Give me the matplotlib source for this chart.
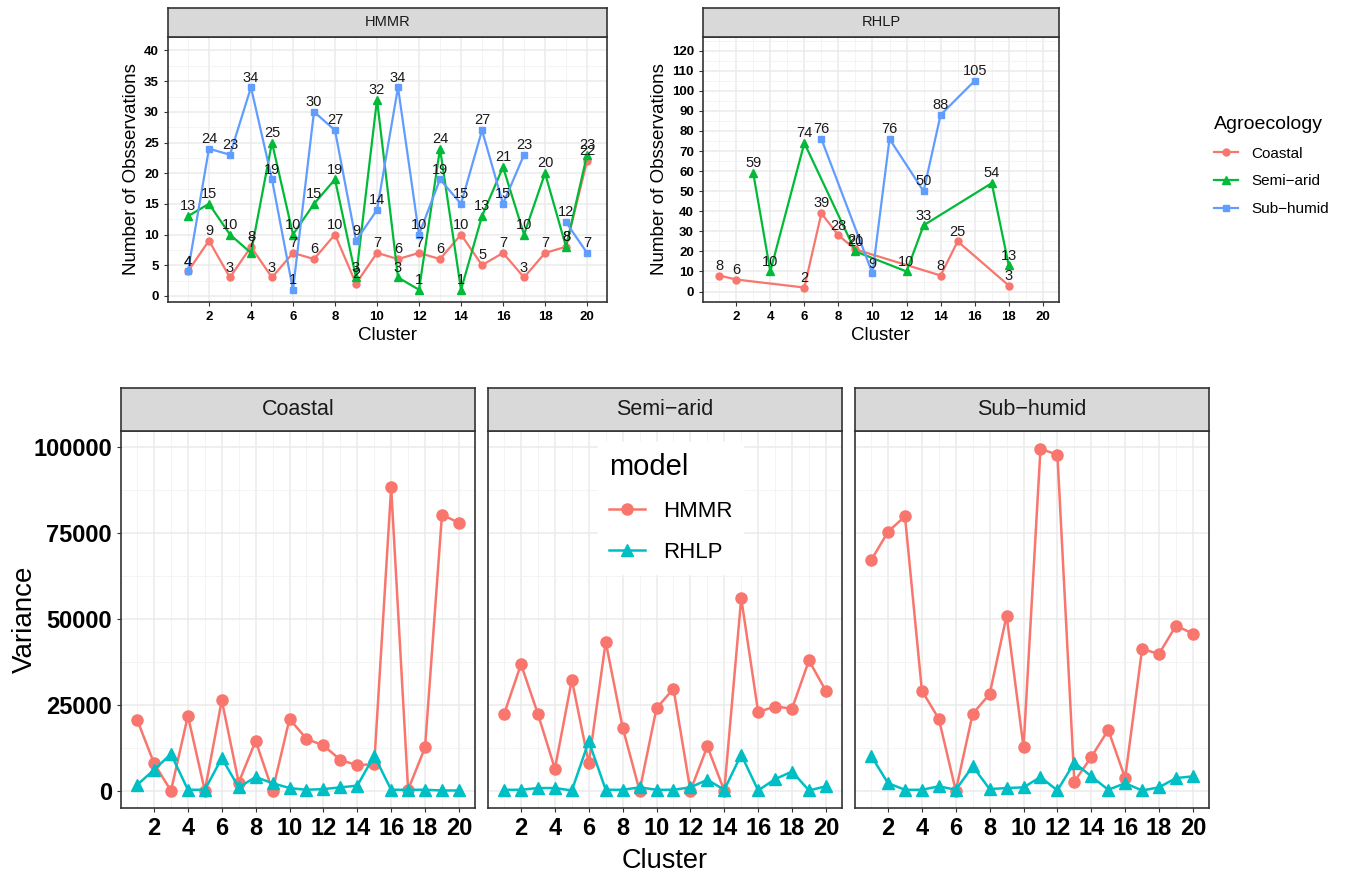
import numpy as np
import matplotlib.pyplot as plt
from matplotlib.lines import Line2D

plt.rcParams['font.family'] = ['Liberation Sans', 'DejaVu Sans']

W, H = 1349, 873

clusters = np.arange(1, 21)
nan = np.nan

# top panels: number of observations per cluster
hmmr_coastal = [4, 9, 3, 8, 3, 7, 6, 10, 2, 7, 6, 7, 6, 10, 5, 7, 3, 7, 8, 22]
hmmr_semiarid = [13, 15, 10, 7, 25, 10, 15, 19, 3, 32, 3, 1, 24, 1, 13, 21, 10, 20, 8, 23]
hmmr_subhumid = [4, 24, 23, 34, 19, 1, 30, 27, 9, 14, 34, 10, 19, 15, 27, 15, 23, nan, 12, 7]

rhlp_coastal_x = [1, 2, 6, 7, 8, 9, 14, 15, 18]
rhlp_coastal = [8, 6, 2, 39, 28, 21, 8, 25, 3]
rhlp_semiarid_x = [3, 4, 6, 9, 12, 13, 17, 18]
rhlp_semiarid = [59, 10, 74, 20, 10, 33, 54, 13]
rhlp_subhumid_x = [7, 10, 11, 13, 14, 16]
rhlp_subhumid = [76, 9, 76, 50, 88, 105]

# bottom panels: variance per cluster
var_hmmr = {
    'Coastal': [20700, 8000, 0, 21800, 0, 26300, 2400, 14500, 0, 20900,
                15100, 13200, 9000, 7400, 7800, 88200, 300, 12600, 80300, 77900],
    'Semi\u2212arid': [22300, 36800, 22300, 6400, 32300, 8000, 43300, 18400, 0, 24000,
                       29700, 0, 12900, 0, 56000, 22900, 24500, 23900, 37900, 29000],
    'Sub\u2212humid': [67000, 75300, 79800, 29100, 20900, 0, 22400, 28100, 50900, 12600,
                       99400, 97700, 2700, 9800, 17700, 3700, 41200, 39800, 48000, 45700],
}
var_rhlp = {
    'Coastal': [1700, 6100, 10700, 300, 300, 9500, 1000, 4000, 2200, 800,
                300, 500, 1000, 1500, 10200, 300, 300, 300, 100, 100],
    'Semi\u2212arid': [300, 300, 800, 800, 100, 14400, 300, 300, 1000, 300,
                       300, 1000, 3200, 300, 10500, 100, 3400, 5600, 100, 1300],
    'Sub\u2212humid': [10200, 2200, 300, 300, 1300, 300, 7100, 500, 800, 1000,
                       4000, 100, 8200, 4200, 300, 2200, 100, 1000, 3700, 4200],
}

RED, GREEN, BLUE, TEAL = '#F8766D', '#00BA38', '#619CFF', '#00BFC4'


def rect(l, t, r, b):
    return [l / W, 1 - b / H, (r - l) / W, (b - t) / H]


def style_panel(ax, fs):
    ax.set_facecolor('white')
    ax.grid(which='major', color='#EBEBEB', lw=1.1, zorder=0)
    ax.grid(which='minor', color='#F2F2F2', lw=0.6, zorder=0)
    for s in ax.spines.values():
        s.set_color('#333333')
        s.set_linewidth(1.2)
    ax.tick_params(which='major', length=3, color='#333333', labelsize=fs)
    ax.tick_params(which='minor', length=0)
    for lab in ax.get_xticklabels() + ax.get_yticklabels():
        lab.set_fontweight('bold')
        lab.set_color('black')


def strip(l, r, t, b, text, fs):
    sa = fig.add_axes(rect(l, t, r, b))
    sa.set_facecolor('#D9D9D9')
    sa.set_xticks([])
    sa.set_yticks([])
    for s in sa.spines.values():
        s.set_color('#333333')
        s.set_linewidth(1.2)
    sa.text(0.5, 0.5, text, ha='center', va='center', fontsize=fs, color='#1A1A1A',
            transform=sa.transAxes)


def labelled(ax, x, y, color, marker, ms):
    ax.plot(x, y, color=color, marker=marker, ms=ms, lw=1.6, zorder=3)
    for xi, yi in zip(x, y):
        if not np.isnan(yi):
            ax.annotate(str(int(yi)), (xi, yi), xytext=(0, 2), textcoords='offset points',
                        ha='center', va='bottom', fontsize=10.5, color='#1A1A1A', zorder=4)


fig = plt.figure(figsize=(W / 100, H / 100), dpi=100)

# ---- top: HMMR
ax1 = fig.add_axes(rect(168, 37, 607, 302))
labelled(ax1, clusters, np.array(hmmr_coastal, float), RED, 'o', 5)
labelled(ax1, clusters, np.array(hmmr_semiarid, float), GREEN, '^', 6)
labelled(ax1, clusters, np.array(hmmr_subhumid, float), BLUE, 's', 5)
ax1.set_xlim(0.05, 20.95)
ax1.set_ylim(-1, 42.2)
ax1.set_xticks(range(2, 21, 2))
ax1.set_xticks(range(1, 21), minor=True)
ax1.set_yticks(range(0, 41, 5))
ax1.set_yticks(np.arange(2.5, 42, 5), minor=True)
style_panel(ax1, 9.5)
ax1.set_xlabel('Cluster', fontsize=13.5, labelpad=3)
ax1.set_ylabel('Number of Obsservations', fontsize=13.5, labelpad=3)
strip(168, 607, 8, 37, 'HMMR', 10.5)

# ---- top: RHLP
ax2 = fig.add_axes(rect(703, 37, 1059, 302))
labelled(ax2, rhlp_coastal_x, np.array(rhlp_coastal, float), RED, 'o', 5)
labelled(ax2, rhlp_semiarid_x, np.array(rhlp_semiarid, float), GREEN, '^', 6)
labelled(ax2, rhlp_subhumid_x, np.array(rhlp_subhumid, float), BLUE, 's', 5)
ax2.set_xlim(0.05, 20.95)
ax2.set_ylim(-5.2, 126.8)
ax2.set_xticks(range(2, 21, 2))
ax2.set_xticks(range(1, 21), minor=True)
ax2.set_yticks(range(0, 121, 10))
ax2.set_yticks(np.arange(5, 126, 10), minor=True)
style_panel(ax2, 9.5)
ax2.set_xlabel('Cluster', fontsize=13.5, labelpad=3)
ax2.set_ylabel('Number of Obsservations', fontsize=13.5, labelpad=3)
strip(703, 1059, 8, 37, 'RHLP', 10.5)

handles = [Line2D([], [], color=RED, marker='o', ms=5, lw=1.6),
           Line2D([], [], color=GREEN, marker='^', ms=6, lw=1.6),
           Line2D([], [], color=BLUE, marker='s', ms=5, lw=1.6)]
fig.legend(handles, ['Coastal', 'Semi\u2212arid', 'Sub\u2212humid'], title='Agroecology',
           loc='upper left', bbox_to_anchor=(1200 / W, 1 - 102 / H), frameon=False,
           fontsize=11, title_fontsize=14, handlelength=1.6, handletextpad=0.85,
           labelspacing=0.9, alignment='left')

# ---- bottom panels
lefts = [121, 488, 855]
names = ['Coastal', 'Semi\u2212arid', 'Sub\u2212humid']
for i, (l, name) in enumerate(zip(lefts, names)):
    ax = fig.add_axes(rect(l, 431, l + 354, 808))
    ax.plot(clusters, var_hmmr[name], color=RED, marker='o', ms=8, lw=1.8, zorder=3, label='HMMR')
    ax.plot(clusters, var_rhlp[name], color=TEAL, marker='^', ms=9, lw=1.8, zorder=3, label='RHLP')
    ax.set_xlim(0.05, 20.95)
    ax.set_ylim(-5000, 104600)
    ax.set_xticks(range(2, 21, 2))
    ax.set_xticks(range(1, 21), minor=True)
    ax.set_yticks(range(0, 100001, 25000))
    ax.set_yticks(np.arange(12500, 104000, 25000), minor=True)
    style_panel(ax, 17)
    if i > 0:
        ax.tick_params(axis='y', which='both', left=False, labelleft=False)
    else:
        ax.set_ylabel('Variance', fontsize=20)
        ax.yaxis.set_label_coords(-0.235, 0.5)
    if i == 1:
        ax.set_xlabel('Cluster', fontsize=19.5, labelpad=6)
        leg = ax.legend(title='model', loc='upper left', bbox_to_anchor=(0.28, 1.0),
                        fontsize=16, title_fontsize=21, frameon=True, fancybox=False,
                        edgecolor='white', framealpha=1, handlelength=1.6,
                        handletextpad=0.8, borderpad=0.5, labelspacing=0.9,
                        alignment='left')
        leg.set_zorder(5)
    strip(l, l + 354, 388, 431, name, 15.5)

fig.savefig('out.png', dpi=100)
